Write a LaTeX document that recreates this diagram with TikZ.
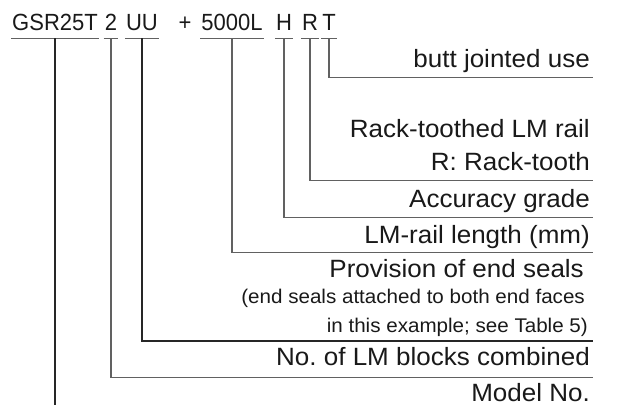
\documentclass[tikz,border=0pt]{standalone}
\usepackage{fontspec}
\setmainfont{Liberation Sans}
\newfontfamily\codefont[FakeStretch=0.94]{Liberation Sans}
\newfontfamily\labelfont[FakeStretch=1.04]{Liberation Sans}
\frenchspacing
\tikzset{
  code/.style={anchor=base, inner xsep=1pt, inner ysep=0pt, text depth=8pt,
    font=\codefont\fontsize{23.4}{26}\selectfont},
  item/.style={anchor=base east, inner xsep=2.5pt, inner ysep=0pt, text depth=10pt,
    font=\labelfont\fontsize{25}{28}\selectfont},
  note/.style={anchor=base east, inner sep=0pt,
    font=\labelfont\fontsize{19.8}{22}\selectfont},
  lead/.style={line width=1.1pt, draw=black!62},
  leaddark/.style={lead, draw=black!85},
}
\begin{document}
\begin{tikzpicture}[x=1pt, y=-1pt, text=black!90]
  \useasboundingbox (0,0) rectangle (630,405);
  % model code
  \node[code] (gsr)  at (55,30)  {GSR25T};
  \node[code] (two)  at (111,30) {2};
  \node[code] (uu)   at (142,30) {UU};
  \node[code] (plus) at (185,30) {+};
  \node[code] (len)  at (232,30) {5000L};
  \node[code] (h)    at (284,30) {H};
  \node[code] (r)    at (310,30) {R};
  \node[code] (t)    at (329,30) {T};
  \foreach \n in {gsr,two,uu,len,h,r,t}
    \draw[lead] (\n.south west) -- (\n.south east);

  % labels
  \node[item] (butt)   at (592.5,67)  {butt jointed use};
  \node[item] (rack)   at (592.5,137) {Rack-toothed LM rail};
  \node[item] (tooth)  at (592.5,170) {R: Rack-tooth};
  \node[item] (grade)  at (592.5,207) {Accuracy grade};
  \node[item, text depth=9pt] (length) at (592.5,243) {LM-rail length (mm)};
  \node[item] (seals)  at (586.5,277) {Provision of end seals};
  \node[note] (sealsa) at (585,303)   {(end seals attached to both end faces};
  \node[note] (sealsb) at (588,332)   {in this example; see Table 5)};
  \node[item, text depth=12pt] (blocks) at (592.5,365) {No. of LM blocks combined};
  \node[item] (model)  at (592.5,401) {Model No.};
  \coordinate (sealsend) at (592.5,341);
  \coordinate (foot) at (0,405);

  % leaders
  \draw[lead] (t.south) |- (butt.south east);
  \draw[lead] (r.south) |- (tooth.south east);
  \draw[lead] (h.south) |- (grade.south east);
  \draw[lead] (len.south) |- (length.south east);
  \draw[leaddark] (uu.south) |- (sealsend);
  \draw[lead] (two.south) |- (blocks.south east);
  \draw[leaddark] (gsr.south) -- (gsr.south |- foot);
\end{tikzpicture}
\end{document}
